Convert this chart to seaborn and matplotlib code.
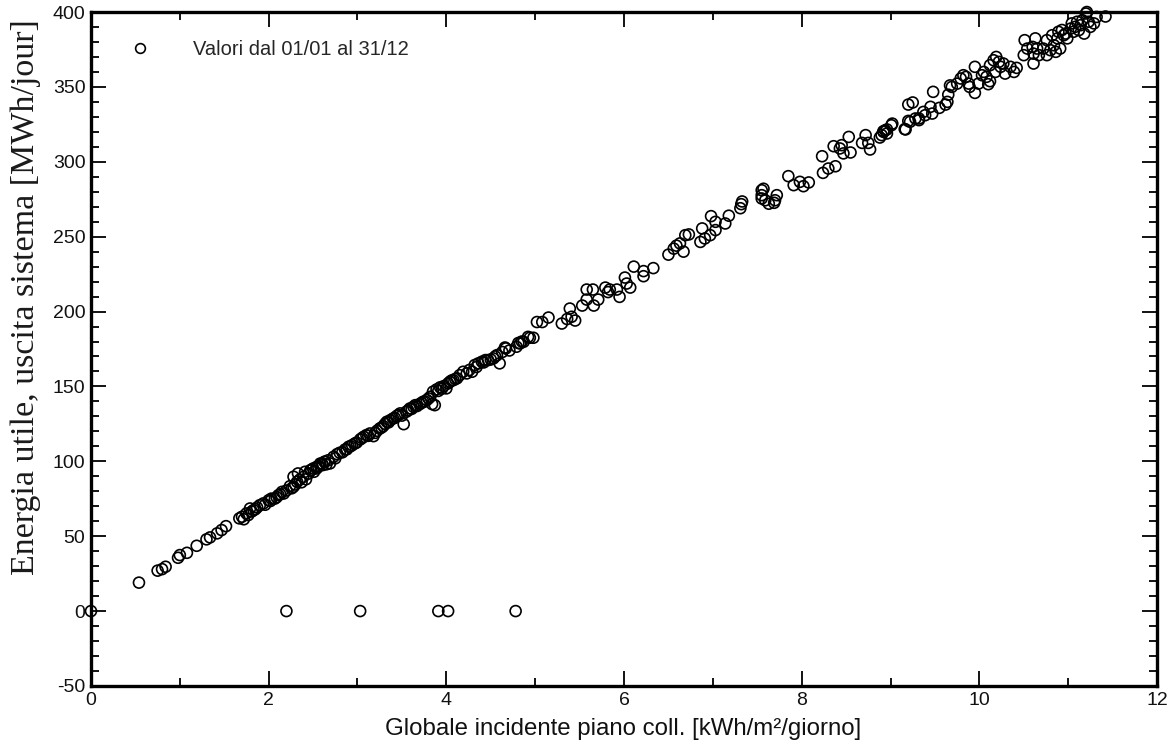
import matplotlib
matplotlib.use("Agg")
import matplotlib.pyplot as plt
import seaborn as sns
import pandas as pd
from matplotlib.lines import Line2D
from matplotlib.ticker import MultipleLocator

# ---- data ----
x_low = [0.0, 0.54, 0.75, 0.80, 0.84, 0.98, 1.00, 1.08, 1.19, 1.30, 1.34, 1.42, 1.47, 1.52,
         1.67, 1.70, 1.72, 1.77]
y_low = [0, 19, 27, 28, 29.6, 35.6, 37.4, 38.9, 43.6, 47.9, 49.2, 51.9, 54.1, 56.7,
         61.9, 63.0, 61.3, 64.1]

x_b = [1.75, 1.79, 1.83, 1.87, 1.90, 1.94, 2.00, 2.03, 2.07, 2.11, 2.15, 2.17, 2.24, 2.28,
       2.32, 2.35, 2.39, 2.45, 2.48, 2.54, 2.58, 2.63, 2.67,
       1.81, 1.85, 1.96, 2.02, 2.09, 2.13, 2.20, 2.26, 2.30, 2.37, 2.42, 2.51, 2.56, 2.61, 2.65]
y_b = [65.2, 68.5, 67.4, 69.2, 70.7, 71.9, 74.0, 75.1, 75.1, 77.4, 79.6, 78.5, 83.4, 83.0,
       86.3, 87.8, 89.6, 91.8, 94.1, 95.2, 98.5, 99.7, 100.7,
       66.5, 68.0, 71.0, 73.5, 76.0, 78.0, 80.5, 82.0, 84.5, 86.0, 88.0, 93.0, 96.5, 97.5, 98.0]

x_c = [2.28, 2.33, 2.41, 2.47, 2.50, 2.54, 2.60, 2.63, 2.69, 2.73, 2.77, 2.80, 2.86, 2.90,
       2.94, 2.97, 3.03, 3.07, 3.10, 3.14, 3.18, 3.22, 3.25, 3.29, 3.33, 3.37, 3.40, 3.44,
       3.48, 3.52, 3.55, 3.59, 3.63, 3.67, 3.70, 3.74, 3.78, 3.82, 3.84, 3.87, 3.85, 3.89,
       3.93, 3.97, 4.00, 4.04, 4.08, 4.12, 4.19, 4.23, 4.29, 4.32, 4.36, 4.40, 4.44, 4.47,
       4.53, 4.57, 4.60, 4.67, 4.79, 4.83, 4.87, 4.92,
       2.75, 2.83, 2.88, 2.92, 2.99, 3.05, 3.12, 3.20, 3.27, 3.31, 3.35, 3.42, 3.46, 3.50,
       3.57, 3.61, 3.65, 3.72, 3.76, 3.80, 3.91, 3.95, 4.02, 4.06, 4.10, 4.15, 4.26, 4.34,
       4.42, 4.50, 4.55, 4.63, 4.71]
y_c = [89.7, 91.9, 93.0, 94.1, 95.2, 96.3, 98.6, 99.7, 98.6, 103.0, 104.8, 105.7, 107.9, 109.7,
       110.8, 111.9, 114.6, 116.4, 117.5, 118.6, 116.8, 120.4, 121.9, 123.5, 126.4, 127.5, 128.6, 130.2,
       132.0, 124.8, 133.1, 135.3, 136.4, 136.9, 138.2, 139.8, 140.9, 143.1, 138.2, 137.5, 146.5, 148.0,
       149.4, 150.2, 148.7, 153.1, 154.2, 155.4, 159.8, 158.7, 159.8, 164.3, 165.4, 166.5, 167.6, 167.6,
       168.7, 170.9, 165.4, 175.4, 176.5, 178.7, 179.8, 183.1,
       102.0, 106.0, 108.0, 110.0, 112.5, 115.5, 117.0, 119.0, 122.5, 125.0, 126.0, 129.0, 131.0, 130.5,
       134.0, 135.0, 137.5, 139.0, 140.0, 142.0, 147.0, 148.5, 152.0, 154.0, 155.0, 157.5, 161.0, 163.0,
       166.0, 168.0, 170.0, 173.0, 174.0]

x_zero = [2.20, 3.03, 3.91, 4.02, 4.78]
y_zero = [0, 0, 0, 0, 0]

x_d = [4.66, 4.81, 4.85, 4.94, 4.98, 5.02, 5.08, 5.15, 5.30, 5.36, 5.39, 5.41, 5.45,
       5.53, 5.58, 5.58, 5.65, 5.66, 5.71, 5.79, 5.82, 5.84, 5.92, 5.95, 6.01, 6.03, 6.07,
       6.11, 6.22, 6.22, 6.33, 6.50, 6.56, 6.59, 6.63, 6.67, 6.69, 6.73,
       6.86, 6.88, 6.91, 6.97, 7.03, 6.98, 7.03, 7.14, 7.18]
y_d = [176, 179, 180, 182.5, 182.5, 193, 193, 196, 192, 195, 202, 196.5, 194,
       204, 208, 214.7, 214.7, 204, 208, 216, 213, 214.7, 214.7, 209.8, 222.7, 218.7, 216,
       230, 227, 223.6, 229, 238, 242, 244, 245.5, 240, 251, 251.5,
       246.5, 255.5, 248.8, 251, 254.4, 263.7, 259.9, 258.8, 264]

x_e = [7.31, 7.32, 7.33, 7.55, 7.55, 7.57, 7.59, 7.63, 7.69, 7.72, 7.70, 7.55,
       7.85, 7.91, 7.98, 8.02, 8.08, 8.24, 8.23, 8.30, 8.38, 8.36, 8.45, 8.47, 8.55, 8.53, 8.43,
       8.68, 8.72, 8.75, 8.77, 8.88, 8.92, 8.96, 9.01, 9.17, 9.22, 9.32]
y_e = [269, 271.7, 273.5, 281, 277.7, 282, 274.3, 272, 272.6, 277.7, 274.3, 275.5,
       290.4, 284.4, 286.6, 283.7, 286.2, 292.6, 303.7, 295.5, 297, 310.4, 311.1, 305.6, 306.2, 316.6, 308.9,
       312.6, 317.8, 312.6, 308.2, 316.2, 320, 321.6, 324.4, 321.6, 326.7, 327.8]

x_f = [8.90, 8.94, 8.96, 9.02, 8.92,
       9.16, 9.20, 9.20, 9.25, 9.28, 9.32, 9.37, 9.39, 9.45, 9.47, 9.48, 9.55, 9.62, 9.64, 9.65, 9.67,
       9.69, 9.75, 9.79, 9.82, 9.85, 9.88, 9.89, 9.95, 9.95, 9.99, 10.03, 10.05, 10.08, 10.10, 10.12,
       10.12, 10.16, 10.19, 10.22, 10.18, 10.24, 10.27, 10.29, 10.35, 10.39, 10.42,
       10.50, 10.51, 10.54, 10.60, 10.61, 10.61, 10.63, 10.65, 10.67, 10.72, 10.76, 10.76, 10.80,
       10.82, 10.84, 10.86, 10.88, 10.89, 10.91, 10.93, 10.95, 10.97, 10.99, 11.03, 11.04, 11.06,
       11.08, 11.10, 11.12, 11.14, 11.16, 11.18, 11.20, 11.21, 11.23, 11.25, 11.29, 11.32, 11.42]
y_f = [317.8, 321, 318.9, 325.5, 320.4,
       321.8, 327.3, 338.2, 339.6, 328.9, 328.9, 333.3, 331.1, 336.7, 332.2, 346.7, 336, 338.2, 340, 344.8, 351,
       350, 352.2, 355.6, 357.8, 356.7, 352.2, 350, 346, 363.4, 352.2, 357.8, 360, 356.7, 351.8, 353.8,
       364.5, 367.8, 370, 366.7, 360, 363.4, 365.6, 358.9, 363.4, 360, 362.7,
       371.2, 381.2, 375.6, 376.7, 372.2, 365.6, 382.4, 375.6, 371.2, 375.6, 371.2, 381.2, 374.5,
       384.5, 377.8, 373.4, 382.4, 386.8, 375.6, 388, 384.5, 385.6, 382.4, 389, 392.4, 386.8,
       390.1, 393.5, 387.9, 391.2, 394.5, 385.6, 399, 400, 393.5, 390.1, 392.4, 396.7, 397]

legend_label = "Valori dal 01/01 al 31/12"
x_label = "Globale incidente piano coll. [kWh/m²/giorno]"
y_label = "Energia utile, uscita sistema [MWh/jour]"

df = pd.DataFrame({
    "x": x_low + x_b + x_c + x_zero + x_d + x_e + x_f,
    "y": y_low + y_b + y_c + y_zero + y_d + y_e + y_f,
})

# ---- plot ----
sns.set_theme(style="white")
plt.rcParams["font.family"] = ["Liberation Sans", "DejaVu Sans"]
plt.rcParams["axes.unicode_minus"] = False

fig = plt.figure(figsize=(11.68, 7.51), dpi=100)
ax = fig.add_axes([0.0779, 0.0866, 0.9127, 0.8974])

sns.scatterplot(data=df, x="x", y="y", ax=ax, marker="o", s=62,
                facecolor="none", edgecolor="black", linewidth=1.2, clip_on=False, legend=False)

ax.set_xlim(0, 12)
ax.set_ylim(-50, 400)
ax.xaxis.set_major_locator(MultipleLocator(2))
ax.xaxis.set_minor_locator(MultipleLocator(1))
ax.yaxis.set_major_locator(MultipleLocator(50))
ax.yaxis.set_minor_locator(MultipleLocator(10))
ax.tick_params(which="both", direction="in", top=True, right=True, bottom=True, left=True,
               color="black", width=1.3)
ax.tick_params(which="major", length=11, labelsize=14, pad=4, labelcolor="#111111")
ax.tick_params(which="minor", length=6)
for sp in ax.spines.values():
    sp.set_linewidth(2.4)
    sp.set_color("black")

ax.set_xlabel(x_label, fontsize=17.3, color="#111111")
ax.xaxis.set_label_coords(0.4995, -0.048)
ax.set_ylabel(y_label, fontsize=24.5, family=["Liberation Serif", "DejaVu Serif"],
              color="#1a1a1a")
ax.yaxis.set_label_coords(-0.047, 0.577)

handle = Line2D([], [], linestyle="none", marker="o", markersize=7,
                markerfacecolor="none", markeredgecolor="black", markeredgewidth=1.2)
ax.legend([handle], [legend_label], loc="upper left", frameon=False, fontsize=14.5,
          handlelength=1.0, handletextpad=2.15, bbox_to_anchor=(0.0193, 0.985))

fig.savefig("out.png", dpi=100)
